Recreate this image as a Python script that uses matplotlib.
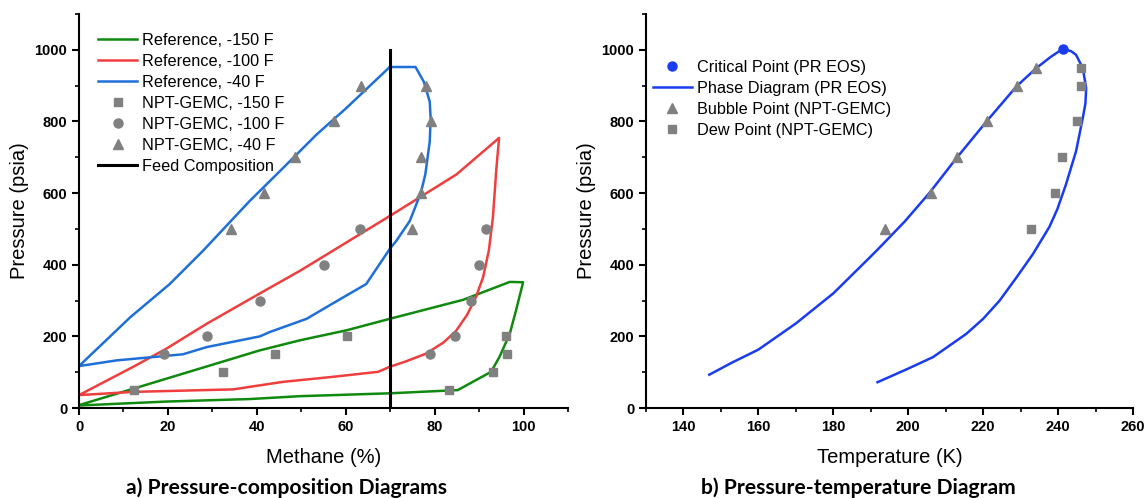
import matplotlib
matplotlib.use("Agg")
import matplotlib.pyplot as plt
from matplotlib.ticker import MultipleLocator
from matplotlib.lines import Line2D

# ---- Pressure-composition data (Methane %, Pressure psia) ----
bubble_150_x = [0, 19.7, 40.7, 49.7, 60.2, 69.9, 86.4, 96.9, 99.9]
bubble_150_p = [8, 82, 161, 189, 217, 249, 302, 352, 351]
dew_150_x = [99.9, 98.3, 96.9, 94.6, 92.7, 85.2, 69.9, 49.7, 38.4, 19.7, 0]
dew_150_p = [351, 272, 207, 143, 101, 50, 41, 33, 25, 18, 7]

bubble_100_x = [0, 12.2, 19.7, 28.7, 40.7, 49.7, 57.1, 69.9, 84.9, 94.5]
bubble_100_p = [36, 115, 166, 235, 320, 383, 439, 536, 652, 754]
dew_100_x = [94.5, 93.9, 93.1, 92.2, 90.9, 89.3, 87.3, 84.8, 82.0, 78.1, 73.5,
             69.9, 67.3, 57.1, 45.9, 38.4, 34.7, 12.2, 0]
dew_100_p = [754, 670, 531, 440, 365, 310, 260, 215, 183, 152, 130,
             115, 101, 87, 73, 59, 52, 45, 36]

bubble_40_x = [0, 11.5, 20.4, 27.9, 38.4, 45.9, 53.4, 60.1, 69.9, 75.7]
bubble_40_p = [117, 253, 346, 439, 578, 670, 763, 837, 952, 952]
dew_40_x = [75.7, 77.6, 78.9, 79.1, 78.9, 77.9, 77.0, 75.9, 74.4, 71.4, 69.9,
            64.6, 57.1, 51.2, 42.9, 40.7, 28.7, 23.4, 18.2, 8.5, 0]
dew_40_p = [952, 910, 855, 809, 744, 652, 606, 569, 522, 467, 444,
            346, 292, 249, 212, 200, 170, 150, 144, 133, 117]

gemc_150_x = [12.4, 32.3, 44.0, 60.3, 83.2, 93.1, 96.1, 96.3]
gemc_150_p = [50, 100, 150, 200, 50, 100, 200, 150]
gemc_100_x = [19.1, 28.7, 40.8, 55.1, 63.1, 78.9, 84.6, 88.1, 90.0, 91.6]
gemc_100_p = [150, 200, 300, 400, 500, 150, 200, 300, 400, 500]
gemc_40_x = [34.2, 41.7, 48.5, 57.4, 63.4, 78.0, 79.1, 77.0, 76.9, 74.8]
gemc_40_p = [500, 600, 700, 800, 900, 900, 800, 700, 600, 500]

feed_x = [70, 70]
feed_p = [0, 1000]

# ---- Pressure-temperature data (K, psia) ----
pr_bubble_T = [146.9, 153.0, 160.0, 170.0, 180.0, 189.7, 191.9, 199.0, 205.7,
               212.9, 220.9, 228.9, 234.2, 238.0, 241.3]
pr_bubble_P = [93, 127, 163, 236, 320, 420, 443, 520, 601,
               698, 800, 898, 949, 980, 1003]
pr_dew_T = [241.3, 243.5, 244.8, 246.6, 247.5, 247.3, 246.6, 244.8, 242.1,
            239.8, 237.7, 235.5, 233.3, 229.0, 224.4, 220.0, 215.5, 206.6,
            200.0, 191.8]
pr_dew_P = [1003, 996, 986, 949, 893, 850, 810, 717, 624,
            555, 506, 468, 430, 366, 300, 249, 207, 142,
            110, 72]
crit_T = [241.3]
crit_P = [1003]
gemc_bub_T = [193.9, 206.0, 212.9, 221.0, 229.1, 234.2]
gemc_bub_P = [500, 600, 700, 800, 900, 950]
gemc_dew_T = [246.0, 246.0, 245.1, 241.0, 239.1, 232.9]
gemc_dew_P = [950, 900, 800, 700, 600, 500]

GREEN = "#0f8a0f"
RED = "#ef3e3e"
BLUE = "#1f6fd8"
PT_BLUE = "#1a3cf0"
GRAY = "#808080"
LW = 1.8
LEG_FS = 11.7

plt.rcParams["font.family"] = ["Liberation Sans", "DejaVu Sans"]

fig = plt.figure(figsize=(11.47, 4.98), dpi=100)
ax1 = fig.add_axes([79 / 1147, 90 / 498, 489 / 1147, 394 / 498])
ax2 = fig.add_axes([646 / 1147, 90 / 498, 487 / 1147, 394 / 498])


def style_axis(ax):
    for side in ("top", "right"):
        ax.spines[side].set_visible(False)
    for side in ("left", "bottom"):
        ax.spines[side].set_linewidth(1.5)
    ax.tick_params(which="major", direction="out", length=5, width=1.5,
                   labelsize=10.5)
    ax.tick_params(which="minor", direction="out", length=3, width=1.2)
    ax.set_ylim(0, 1100)
    ax.yaxis.set_major_locator(MultipleLocator(200))
    ax.yaxis.set_minor_locator(MultipleLocator(100))
    ax.set_ylabel("Pressure (psia)", fontsize=14.5, labelpad=4)


def bold_ticks(ax):
    for lab in ax.get_xticklabels() + ax.get_yticklabels():
        lab.set_fontweight("bold")


# ---- a) Pressure-composition ----
ax1.plot(bubble_150_x + dew_150_x, bubble_150_p + dew_150_p, color=GREEN, lw=LW)
ax1.plot(bubble_100_x + dew_100_x, bubble_100_p + dew_100_p, color=RED, lw=LW)
ax1.plot(bubble_40_x + dew_40_x, bubble_40_p + dew_40_p, color=BLUE, lw=LW)
ax1.plot(gemc_150_x, gemc_150_p, ls="none", marker="s", ms=5.5, color=GRAY)
ax1.plot(gemc_100_x, gemc_100_p, ls="none", marker="o", ms=6.5, color=GRAY)
ax1.plot(gemc_40_x, gemc_40_p, ls="none", marker="^", ms=7, color=GRAY)
ax1.plot(feed_x, feed_p, color="black", lw=2.2)

ax1.set_xlim(0, 110)
ax1.set_xticks([0, 20, 40, 60, 80, 100])
ax1.xaxis.set_minor_locator(MultipleLocator(10))
style_axis(ax1)
bold_ticks(ax1)
ax1.set_xlabel("Methane (%)", fontsize=14.5, labelpad=10)

h1 = [
    Line2D([], [], color=GREEN, lw=LW),
    Line2D([], [], color=RED, lw=LW),
    Line2D([], [], color=BLUE, lw=LW),
    Line2D([], [], ls="none", marker="s", ms=5.5, color=GRAY),
    Line2D([], [], ls="none", marker="o", ms=6.5, color=GRAY),
    Line2D([], [], ls="none", marker="^", ms=7, color=GRAY),
    Line2D([], [], color="black", lw=2.2),
]
l1 = ["Reference, -150 F", "Reference, -100 F", "Reference, -40 F",
      "NPT-GEMC, -150 F", "NPT-GEMC, -100 F", "NPT-GEMC, -40 F",
      "Feed Composition"]
ax1.legend(h1, l1, loc="upper left", bbox_to_anchor=(0.039, 0.952),
           frameon=False, fontsize=LEG_FS, handlelength=2.4, handletextpad=0.3,
           labelspacing=0.37, borderpad=0, borderaxespad=0)

# ---- b) Pressure-temperature ----
ax2.plot(pr_bubble_T + pr_dew_T, pr_bubble_P + pr_dew_P, color=PT_BLUE, lw=LW)
ax2.plot(crit_T, crit_P, ls="none", marker="o", ms=6.5, color=PT_BLUE)
ax2.plot(gemc_bub_T, gemc_bub_P, ls="none", marker="^", ms=7, color=GRAY)
ax2.plot(gemc_dew_T, gemc_dew_P, ls="none", marker="s", ms=5.5, color=GRAY)

ax2.set_xlim(130, 260)
ax2.set_xticks([140, 160, 180, 200, 220, 240, 260])
ax2.xaxis.set_minor_locator(MultipleLocator(10))
style_axis(ax2)
bold_ticks(ax2)
ax2.set_xlabel("Temperature (K)", fontsize=14.5, labelpad=10)

h2 = [
    Line2D([], [], ls="none", marker="o", ms=6.5, color=PT_BLUE),
    Line2D([], [], color=PT_BLUE, lw=LW),
    Line2D([], [], ls="none", marker="^", ms=7, color=GRAY),
    Line2D([], [], ls="none", marker="s", ms=5.5, color=GRAY),
]
l2 = ["Critical Point (PR EOS)", "Phase Diagram (PR EOS)",
      "Bubble Point (NPT-GEMC)", "Dew Point (NPT-GEMC)"]
ax2.legend(h2, l2, loc="upper left", bbox_to_anchor=(0.014, 0.884),
           frameon=False, fontsize=LEG_FS, handlelength=2.4, handletextpad=0.3,
           labelspacing=0.37, borderpad=0, borderaxespad=0)

# ---- panel captions ----
fig.text(286 / 1147, 10.5 / 498, "a) Pressure-composition Diagrams",
         ha="center", va="center", fontsize=15.2, fontweight="bold",
         family=["Lato", "DejaVu Sans"])
fig.text(858 / 1147, 10.5 / 498, "b) Pressure-temperature Diagram",
         ha="center", va="center", fontsize=15.2, fontweight="bold",
         family=["Lato", "DejaVu Sans"])

fig.savefig("out.png", dpi=100, facecolor="white")
